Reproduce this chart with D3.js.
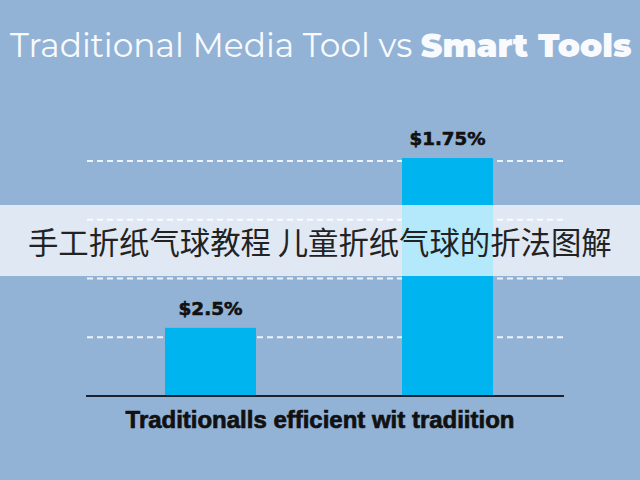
<!DOCTYPE html>
<html><head><meta charset="utf-8">
<script src="https://cdn.jsdelivr.net/npm/d3@7"></script>
<style>html,body{margin:0;padding:0;background:#93b3d6;}svg{display:block;}</style>
</head><body>
<script>
const categories = ["Traditional Media Tool", "Smart Tools"];
const values = [1.16, 4.05];
const valueLabels = ["$2.5%", "$1.75%"];
const gridTicks = [1, 2, 3, 4];
const titleLight = "Traditional Media Tool vs ";
const titleBold = "Smart Tools";
const xAxisTitle = "Traditionalls efficient wit tradiition";
const bannerText = "手工折纸气球教程 儿童折纸气球的折法图解";

const W = 640, H = 480;
const svg = d3.select("body").append("svg").attr("width", W).attr("height", H);
svg.append("rect").attr("width", W).attr("height", H).attr("fill", "#93b3d6");

const plotL = 87, plotR = 563;
const y = d3.scaleLinear().domain([0, 4]).range([396, 161]);
const x = d3.scaleBand().domain(categories).range([87, 571]).paddingInner(0.616).paddingOuter(0.329);

function fit(sel, w) {
  const n = sel.node();
  const fs = parseFloat(sel.attr("font-size"));
  const cur = n.getComputedTextLength();
  sel.attr("font-size", fs * w / cur);
}

// gridlines
svg.append("g").selectAll("line").data(gridTicks).join("line")
  .attr("x1", plotL).attr("x2", plotR)
  .attr("y1", d => y(d)).attr("y2", d => y(d))
  .attr("stroke", "#eef3f9").attr("stroke-width", 2).attr("stroke-dasharray", "6,4");

// bars
svg.append("g").selectAll("rect").data(values).join("rect")
  .attr("x", (d, i) => x(categories[i]))
  .attr("width", x.bandwidth())
  .attr("y", d => y(d))
  .attr("height", d => y(0) - y(d))
  .attr("fill", "#00b4f0");

// baseline
svg.append("line").attr("x1", plotL - 1).attr("x2", plotR + 1)
  .attr("y1", y(0)).attr("y2", y(0)).attr("stroke", "#1a2230").attr("stroke-width", 2);

// value labels
svg.append("g").selectAll("text").data(values).join("text")
  .attr("x", (d, i) => x(categories[i]) + x.bandwidth() / 2)
  .attr("y", d => y(d) - 13)
  .attr("text-anchor", "middle")
  .attr("font-family", "DejaVu Sans, Verdana, sans-serif")
  .attr("font-weight", "bold").attr("font-size", 16)
  .attr("fill", "#111").attr("stroke", "#111").attr("stroke-width", 0.6)
  .text((d, i) => valueLabels[i])
  .each(function (d, i) { fit(d3.select(this), i === 0 ? 64 : 76); });

// x axis title
const xt = svg.append("text").attr("x", 320).attr("y", 428)
  .attr("text-anchor", "middle")
  .attr("font-family", "'Liberation Sans', Arial, sans-serif")
  .attr("font-weight", "bold").attr("font-size", 18).attr("fill", "#111")
  .attr("stroke", "#111").attr("stroke-width", 0.7)
  .text(xAxisTitle);
fit(xt, 389);

// title
const tt = svg.append("text").attr("x", 10).attr("y", 57)
  .attr("font-family", "Montserrat, Lato, 'Open Sans', sans-serif")
  .attr("font-size", 28).attr("fill", "#f8fafd");
tt.append("tspan").attr("font-weight", 400).text(titleLight);
tt.append("tspan").attr("font-weight", 900).text(titleBold);
fit(tt, 622);

// banner
svg.append("rect").attr("x", 0).attr("y", 205).attr("width", W).attr("height", 71)
  .attr("fill", "#ffffff").attr("fill-opacity", 0.7);
const bt = svg.append("text").attr("x", 28).attr("y", 254)
  .attr("font-family", "'Noto Sans CJK SC', sans-serif")
  .attr("font-size", 28).attr("fill", "#222")
  .text(bannerText);
fit(bt, 584);
</script>
</body></html>
